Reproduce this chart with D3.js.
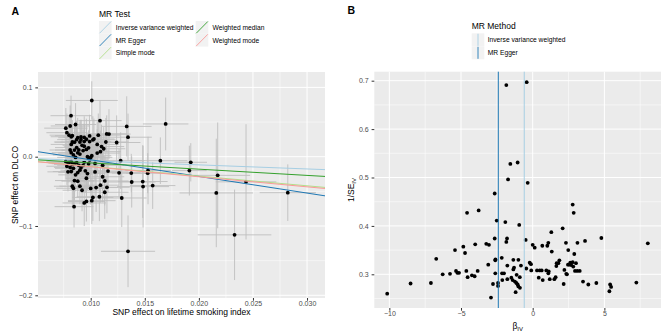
<!DOCTYPE html>
<html>
<head>
<meta charset="utf-8">
<script src="https://cdn.jsdelivr.net/npm/d3@7/dist/d3.min.js"></script>
<style>
	body { margin: 0; background: #fff; }
	svg { display: block; font-family: "Liberation Sans", Arial, sans-serif; }
	.tick text { fill: #4d4d4d; font-size: 7px; }
	.tick line { stroke: #333; }
</style>
</head>
<body>
<svg id="chart" width="669" height="333"></svg>
<script>
// per SNP: effect on lifetime smoking index (exposure), its se,
// the Wald ratio and 1/se of the ratio
const exposureBeta = [
	0.01345, 0.00846, 0.0094, 0.0096, 0.0101, 0.0102, 0.0084, 0.0108, 0.0092, 0.0083,
	0.0233, 0.0090, 0.01287, 0.0100, 0.0113, 0.0105, 0.0085, 0.0088, 0.0115, 0.0109,
	0.0096, 0.0086, 0.0113, 0.01484, 0.0079, 0.01379, 0.0082, 0.0088, 0.0111, 0.0097,
	0.01481, 0.02161, 0.0090, 0.0095, 0.0104, 0.0084, 0.0081, 0.01262, 0.0116, 0.0091,
	0.0078, 0.02436, 0.0089, 0.0083, 0.0153, 0.0093, 0.02174, 0.0085, 0.0111, 0.0087,
	0.0080, 0.0104, 0.0077, 0.0094, 0.02822, 0.01925, 0.01527, 0.01912, 0.01375, 0.01644,
	0.01573, 0.0079, 0.0098, 0.0082, 0.0099, 0.01277, 0.0098, 0.0086, 0.0100, 0.0097,
	0.0101, 0.0084, 0.0090, 0.0106, 0.0088, 0.0109, 0.0082, 0.0093, 0.0112, 0.0089,
	0.0096, 0.0085, 0.0081, 0.0110, 0.0098, 0.0087, 0.0094, 0.0124, 0.0106, 0.0092,
	0.0114, 0.01345, 0.0082, 0.0099, 0.0090, 0.0102, 0.0094, 0.0085, 0.0103, 0.0083,
	0.0096, 0.0091, 0.01693, 0.01148, 0.01169, 0.0087, 0.0107, 0.0094, 0.0091, 0.0099,
	0.0088, 0.01333, 0.0082, 0.0083, 0.0080, 0.0078, 0.01086, 0.0077, 0.0086, 0.0081,
	0.00818, 0.0101
];
const exposureSe = [
	0.0025, 0.0018, 0.0020, 0.0017, 0.0022, 0.0019, 0.0016, 0.0021, 0.0018, 0.0017,
	0.0034, 0.0019, 0.0023, 0.0016, 0.0022, 0.0020, 0.0018, 0.0015, 0.0021, 0.0017,
	0.0019, 0.0016, 0.0022, 0.0024, 0.0019, 0.0022, 0.0017, 0.0018, 0.0020, 0.0016,
	0.0023, 0.0034, 0.0018, 0.0020, 0.0021, 0.0017, 0.0015, 0.0020, 0.0019, 0.0018,
	0.0019, 0.0028, 0.0020, 0.0017, 0.0021, 0.0018, 0.0030, 0.0021, 0.0020, 0.0017,
	0.0019, 0.0016, 0.0018, 0.0019, 0.0026, 0.0015, 0.0020, 0.0016, 0.0018, 0.0025,
	0.0021, 0.0018, 0.0021, 0.0019, 0.0017, 0.0022, 0.0018, 0.0017, 0.0020, 0.0016,
	0.0018, 0.0019, 0.0020, 0.0021, 0.0018, 0.0019, 0.0018, 0.0020, 0.0020, 0.0016,
	0.0019, 0.0018, 0.0019, 0.0021, 0.0017, 0.0020, 0.0019, 0.0022, 0.0020, 0.0018,
	0.0021, 0.0022, 0.0019, 0.0020, 0.0018, 0.0021, 0.0017, 0.0018, 0.0019, 0.0017,
	0.0020, 0.0018, 0.0021, 0.0019, 0.0020, 0.0018, 0.0020, 0.0019, 0.0017, 0.0019,
	0.0018, 0.0023, 0.0019, 0.0016, 0.0018, 0.0019, 0.0020, 0.0020, 0.0019, 0.0018,
	0.0019, 0.0024
];
const waldRatio = [
	-10.15, -8.52, -7.10, -6.73, -6.28, -5.77, -5.42, -5.35, -5.26, -5.14,
	-4.84, -4.72, -4.63, -4.58, -4.54, -4.24, -4.05, -4.01, -3.84, -3.77,
	-3.24, -3.05, -3.10, -2.91, -2.77, -2.65, -2.61, -2.60, -2.61, -2.51,
	-2.42, -2.42, -2.16, -2.14, -2.12, -2.00, -1.91, -1.84, -1.79, -1.77,
	-1.77, -1.49, -1.40, -1.35, -1.30, -1.35, -1.24, -1.19, -1.12, -1.00,
	-1.00, -0.94, -0.90, -0.82, -1.84, -0.42, -1.56, -1.05, -1.72, -0.35,
	-2.65, -1.14, -1.05, -0.89, -0.49, -0.45, -0.21, -0.12, -0.10, 0.00,
	0.14, 0.30, 0.42, 0.49, 0.63, 0.67, 0.70, 0.95, 1.02, 1.09,
	1.09, 1.12, 1.19, 1.33, 1.30, 1.51, 1.60, 1.65, 1.67, 1.79,
	1.86, 2.09, 2.16, 2.21, 2.34, 2.39, 2.32, 2.46, 2.48, 2.55,
	2.62, 2.69, 2.79, 2.86, 2.79, 2.83, 2.90, 2.95, 3.12, 3.02,
	3.11, 3.28, 3.51, 3.65, 3.88, 4.44, 4.79, 5.35, 5.40, 5.47,
	7.23, 8.03
];
const waldInvSe = [
	0.260, 0.281, 0.282, 0.332, 0.300, 0.301, 0.350, 0.307, 0.303, 0.303,
	0.357, 0.344, 0.307, 0.427, 0.294, 0.298, 0.296, 0.362, 0.307, 0.432,
	0.363, 0.361, 0.320, 0.252, 0.280, 0.374, 0.329, 0.331, 0.302, 0.411,
	0.282, 0.276, 0.334, 0.302, 0.288, 0.302, 0.408, 0.367, 0.374, 0.318,
	0.290, 0.293, 0.288, 0.310, 0.314, 0.330, 0.285, 0.263, 0.299, 0.330,
	0.275, 0.402, 0.294, 0.318, 0.691, 0.697, 0.528, 0.531, 0.496, 0.489,
	0.467, 0.282, 0.279, 0.272, 0.371, 0.312, 0.324, 0.321, 0.308, 0.361,
	0.355, 0.308, 0.293, 0.308, 0.308, 0.359, 0.288, 0.308, 0.359, 0.365,
	0.302, 0.306, 0.290, 0.347, 0.387, 0.290, 0.294, 0.317, 0.323, 0.323,
	0.329, 0.395, 0.280, 0.309, 0.301, 0.300, 0.365, 0.320, 0.350, 0.320,
	0.324, 0.319, 0.444, 0.427, 0.325, 0.316, 0.342, 0.307, 0.365, 0.323,
	0.307, 0.307, 0.285, 0.369, 0.279, 0.282, 0.375, 0.265, 0.279, 0.274,
	0.283, 0.364
];

// MR estimates
const methodNames = ["Inverse variance weighted", "MR Egger", "Simple mode", "Weighted median", "Weighted mode"];
const methodSlopes = [-0.59, -2.40, -1.40, -0.90, -1.45];
const methodIntercepts = [0, 0.0195, 0, 0, 0];
const funnelMethods = ["Inverse variance weighted", "MR Egger"];

const scatterXTicks = [0.010, 0.015, 0.020, 0.025, 0.030];
const scatterYTicks = [-0.2, -0.1, 0.0, 0.1];
const funnelXTicks = [-10, -5, 0, 5];
const funnelYTicks = [0.3, 0.4, 0.5, 0.6, 0.7];

const snps = exposureBeta.map((bx, i) => ({
	bx: bx,
	seX: exposureSe[i],
	ratio: waldRatio[i],
	invSe: waldInvSe[i],
	by: waldRatio[i] * bx,
	seY: bx / waldInvSe[i]
}));

const methods = methodNames.map((m, i) => ({key: m, slope: methodSlopes[i], intercept: methodIntercepts[i]}));

const colour = d3.scaleOrdinal()
	.domain(methodNames)
	.range(["#a6cee3", "#1f78b4", "#b2df8a", "#33a02c", "#fb9a99"]);

const svg = d3.select("#chart");
svg.append("rect").attr("width", 669).attr("height", 333).attr("fill", "#fff");

function midpoints(ticks){
	let step = ticks[1] - ticks[0];
	let out = [ticks[0] - step/2];
	ticks.forEach(t => out.push(t + step/2));
	return out;
}

function drawPanel(group, scaleX, scaleY, xTicks, yTicks, xFormat, yFormat, yPad){
	let [x0, x1] = scaleX.range();
	let [y1, y0] = scaleY.range();

	group.append("rect")
		.attr("x", x0).attr("y", y0)
		.attr("width", x1 - x0).attr("height", y1 - y0)
		.attr("fill", "#ebebeb");

	let inX = v => scaleX(v) >= x0 && scaleX(v) <= x1;
	let inY = v => scaleY(v) >= y0 && scaleY(v) <= y1;

	group.selectAll("line.minorX")
		.data(midpoints(xTicks).filter(inX))
		.join("line").attr("class", "minorX")
		.attr("x1", d => scaleX(d)).attr("x2", d => scaleX(d))
		.attr("y1", y0).attr("y2", y1)
		.attr("stroke", "#fff").attr("stroke-width", 0.5);
	group.selectAll("line.minorY")
		.data(midpoints(yTicks).filter(inY))
		.join("line").attr("class", "minorY")
		.attr("x1", x0).attr("x2", x1)
		.attr("y1", d => scaleY(d)).attr("y2", d => scaleY(d))
		.attr("stroke", "#fff").attr("stroke-width", 0.5);
	group.selectAll("line.majorX")
		.data(xTicks)
		.join("line").attr("class", "majorX")
		.attr("x1", d => scaleX(d)).attr("x2", d => scaleX(d))
		.attr("y1", y0).attr("y2", y1)
		.attr("stroke", "#fff").attr("stroke-width", 1);
	group.selectAll("line.majorY")
		.data(yTicks)
		.join("line").attr("class", "majorY")
		.attr("x1", x0).attr("x2", x1)
		.attr("y1", d => scaleY(d)).attr("y2", d => scaleY(d))
		.attr("stroke", "#fff").attr("stroke-width", 1);

	let axisX = group.append("g")
		.attr("transform", "translate(0," + y1 + ")")
		.call(d3.axisBottom(scaleX).tickValues(xTicks).tickFormat(xFormat).tickSize(2.7).tickPadding(0.8));
	axisX.select(".domain").remove();

	let axisY = group.append("g")
		.attr("transform", "translate(" + x0 + ",0)")
		.call(d3.axisLeft(scaleY).tickValues(yTicks).tickFormat(yFormat).tickSize(2.7).tickPadding(yPad));
	axisY.select(".domain").remove();
	group.selectAll(".tick text").attr("font-family", null).attr("font-size", null);
}

function drawScatter(holder){
	let scaleX = d3.scaleLinear().domain([0.005127, 0.03166]).range([38, 325]);
	let scaleY = d3.scaleLinear().domain([-0.2039, 0.1222]).range([298, 72]);

	let group = holder.append("g").attr("class", "scatter");
	drawPanel(group, scaleX, scaleY, scatterXTicks, scatterYTicks, d3.format(".3f"), d3.format(".1f"), 2.8);

	group.append("clipPath").attr("id", "clipA")
		.append("rect").attr("x", 38).attr("y", 72).attr("width", 287).attr("height", 226);

	let marks = group.append("g").attr("clip-path", "url(#clipA)");

	marks.selectAll("line.errY")
		.data(snps)
		.join("line").attr("class", "errY")
		.attr("x1", d => scaleX(d.bx)).attr("x2", d => scaleX(d.bx))
		.attr("y1", d => scaleY(d.by - d.seY)).attr("y2", d => scaleY(d.by + d.seY))
		.attr("stroke", "#bebebe").attr("stroke-width", 0.9);
	marks.selectAll("line.errX")
		.data(snps)
		.join("line").attr("class", "errX")
		.attr("x1", d => scaleX(d.bx - d.seX)).attr("x2", d => scaleX(d.bx + d.seX))
		.attr("y1", d => scaleY(d.by)).attr("y2", d => scaleY(d.by))
		.attr("stroke", "#bebebe").attr("stroke-width", 0.9);

	marks.selectAll("circle")
		.data(snps)
		.join("circle")
		.attr("cx", d => scaleX(d.bx))
		.attr("cy", d => scaleY(d.by))
		.attr("r", 1.9)
		.attr("fill", "#000");

	let xd = scaleX.domain();
	marks.selectAll("line.fit")
		.data(methods)
		.join("line").attr("class", "fit")
		.attr("x1", scaleX(xd[0])).attr("x2", scaleX(xd[1]))
		.attr("y1", d => scaleY(d.intercept + d.slope * xd[0]))
		.attr("y2", d => scaleY(d.intercept + d.slope * xd[1]))
		.attr("stroke", d => colour(d.key))
		.attr("stroke-width", 1);

	group.append("text")
		.attr("x", 181.5).attr("y", 315.2)
		.attr("text-anchor", "middle")
		.attr("font-size", "8.5px")
		.attr("fill", "#000")
		.text("SNP effect on lifetime smoking index");
	group.append("text")
		.attr("transform", "translate(18,185) rotate(-90)")
		.attr("text-anchor", "middle")
		.attr("font-size", "8.5px")
		.text("SNP effect on DLCO");

	// legend
	let legend = group.append("g").attr("transform", "translate(99,0)");
	legend.append("text").attr("x", 0).attr("y", 16.5).attr("font-size", "8.5px").text("MR Test");
	let keys = legend.selectAll("g.key")
		.data(methods)
		.join("g").attr("class", "key")
		.attr("transform", (d, i) => "translate(" + (i < 3 ? 0 : 96.7) + "," + (21 + (i % 3) * 12.8) + ")");
	keys.append("rect")
		.attr("width", 12.6).attr("height", 12.8)
		.attr("fill", "#f2f2f2");
	keys.append("line")
		.attr("x1", 0.5).attr("y1", 12.3).attr("x2", 12.1).attr("y2", 0.5)
		.attr("stroke", d => colour(d.key)).attr("stroke-width", 0.9);
	keys.append("text")
		.attr("x", 16.8).attr("y", 6.4).attr("dy", "0.35em")
		.attr("font-size", "6.7px").attr("fill", "#000")
		.text(d => d.key);
}

function drawFunnel(holder){
	let scaleX = d3.scaleLinear().domain([-11.05, 8.95]).range([374.3, 661]);
	let scaleY = d3.scaleLinear().domain([0.2304, 0.7186]).range([308, 71.7]);

	let group = holder.append("g").attr("class", "funnel");
	drawPanel(group, scaleX, scaleY, funnelXTicks, funnelYTicks, d3.format("d"), d3.format(".1f"), 3);

	group.selectAll("circle")
		.data(snps)
		.join("circle")
		.attr("cx", d => scaleX(d.ratio))
		.attr("cy", d => scaleY(d.invSe))
		.attr("r", 1.9)
		.attr("fill", "#000");

	let fm = methods.filter(m => funnelMethods.includes(m.key));
	group.selectAll("line.vfit")
		.data(fm)
		.join("line").attr("class", "vfit")
		.attr("x1", d => scaleX(d.slope)).attr("x2", d => scaleX(d.slope))
		.attr("y1", 71.7).attr("y2", 308)
		.attr("stroke", d => colour(d.key))
		.attr("stroke-width", 1);

	let xt = group.append("text")
		.attr("x", 517.7).attr("y", 328.5)
		.attr("text-anchor", "middle")
		.attr("font-size", "8.5px");
	xt.append("tspan").text("\u03b2");
	xt.append("tspan").attr("dy", 2).attr("font-size", "6px").text("IV");

	let yt = group.append("text")
		.attr("transform", "translate(354,190) rotate(-90)")
		.attr("text-anchor", "middle")
		.attr("font-size", "8.5px");
	yt.append("tspan").text("1/SE");
	yt.append("tspan").attr("dy", 2).attr("font-size", "6px").text("IV");

	let legend = group.append("g").attr("transform", "translate(471.7,0)");
	legend.append("text").attr("x", 0).attr("y", 28.5).attr("font-size", "8.5px").text("MR Method");
	let keys = legend.selectAll("g.key")
		.data(fm)
		.join("g").attr("class", "key")
		.attr("transform", (d, i) => "translate(0," + (33.3 + i * 13) + ")");
	keys.append("rect")
		.attr("width", 12.6).attr("height", 13)
		.attr("fill", "#f2f2f2");
	keys.append("line")
		.attr("x1", 6.3).attr("x2", 6.3).attr("y1", 0.5).attr("y2", 12.5)
		.attr("stroke", d => colour(d.key)).attr("stroke-width", 0.9);
	keys.append("text")
		.attr("x", 16).attr("y", 6.5).attr("dy", "0.35em")
		.attr("font-size", "6.7px")
		.text(d => d.key);
}

drawScatter(svg);
drawFunnel(svg);

svg.append("text").attr("x", 11.5).attr("y", 15.3)
	.attr("font-size", "10.5px").attr("font-weight", "bold").text("A");
svg.append("text").attr("x", 347.5).attr("y", 14.3)
	.attr("font-size", "10.5px").attr("font-weight", "bold").text("B");
</script>
</body>
</html>
